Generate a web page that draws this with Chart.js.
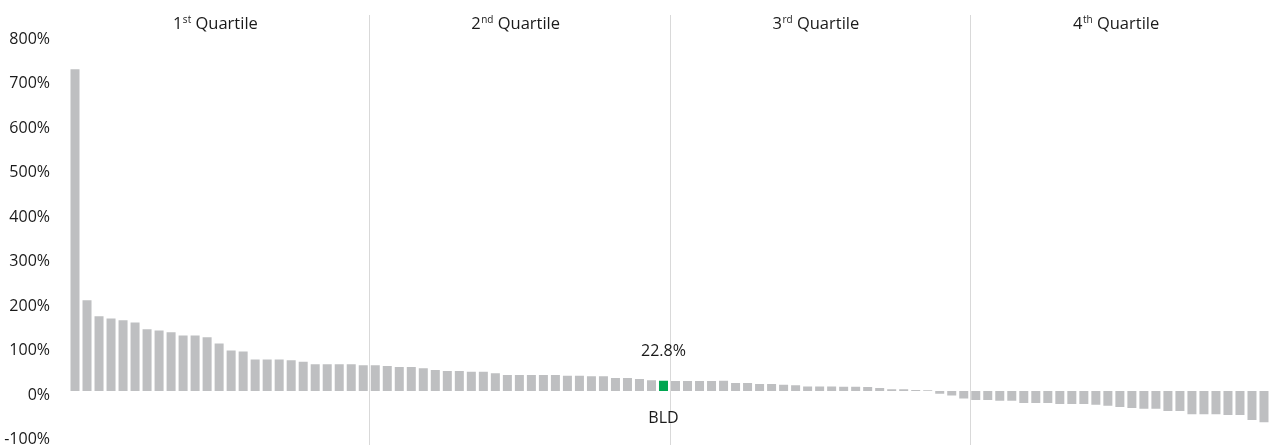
<!DOCTYPE html>
<html>
<head>
<meta charset="utf-8">
<script src="https://cdn.jsdelivr.net/npm/chart.js@4.4.1/dist/chart.umd.min.js"></script>
<style>
  html, body { margin: 0; padding: 0; background: #ffffff; }
  #wrap { width: 1279px; height: 445px; position: relative; }
</style>
</head>
<body>
<div id="wrap"><canvas id="chart"></canvas></div>
<script>
// peer returns, sorted high to low (%)
const returns = [
  723, 204, 168, 163, 159, 154, 139, 136, 132, 125,
  125, 121, 107, 91, 89, 71, 71, 71, 69, 66,
  60, 60, 60, 60, 58, 58, 56, 54, 54, 51,
  47, 45, 45, 43, 43, 40, 36, 36, 36, 36,
  36, 34, 34, 33, 33, 29, 29, 27, 24, 22.8,
  22.5, 22.5, 22.5, 22.3, 23, 18, 18, 16, 15.5, 14,
  13, 10, 10, 10, 9.5, 9.5, 9, 6.5, 4, 4,
  2, 1.5, -6, -10, -17, -20, -20, -22, -22, -27,
  -27, -27, -29, -29, -29, -31, -33, -36, -38, -40,
  -40, -45, -45, -52, -52, -52, -54, -54, -65, -70
];
const highlightName = "BLD";
const highlightIndex = 49;
const categories = returns.map((v, i) => i === highlightIndex ? highlightName : "Peer " + (i + 1));
const quartileNums = ["1", "2", "3", "4"];
const quartileSuffix = ["st", "nd", "rd", "th"];
const quartileText = " Quartile";
const yTicks = { min: -100, max: 800, step: 100 };

const GREY = "#bebfc1";
const GREEN = "#00a651";
const TEXT = "#1a1a1a";
const FONT = "'Open Sans', 'DejaVu Sans', sans-serif";

const overlay = {
  id: "overlay",
  beforeDatasetsDraw(chart) {
    const { ctx, scales: { x } } = chart;
    const n = categories.length;
    const per = n / 4;
    ctx.save();
    ctx.strokeStyle = "#d9d9d9";
    ctx.lineWidth = 1;
    for (let q = 1; q < 4; q++) {
      const px = Math.round((x.getPixelForValue(q * per - 1) + x.getPixelForValue(q * per)) / 2) + 0.5;
      ctx.beginPath();
      ctx.moveTo(px, 15);
      ctx.lineTo(px, chart.height);
      ctx.stroke();
    }
    ctx.restore();
  },
  afterDatasetsDraw(chart) {
    const { ctx, scales: { x, y } } = chart;
    const n = categories.length;
    const per = n / 4;
    ctx.save();
    ctx.fillStyle = TEXT;
    ctx.textBaseline = "middle";
    // quartile headers
    for (let q = 0; q < 4; q++) {
      const cx = (x.getPixelForValue(q * per) + x.getPixelForValue(q * per + per - 1)) / 2 - 4;
      ctx.font = "16.5px " + FONT;
      const wNum = ctx.measureText(quartileNums[q]).width;
      const wText = ctx.measureText(quartileText).width;
      ctx.font = "10px " + FONT;
      const wSup = ctx.measureText(quartileSuffix[q]).width;
      let sx = cx - (wNum + wSup + wText) / 2;
      const yy = 24;
      ctx.textAlign = "left";
      ctx.font = "16.5px " + FONT;
      ctx.fillText(quartileNums[q], sx, yy);
      sx += wNum + 0.5;
      ctx.font = "10px " + FONT;
      ctx.fillText(quartileSuffix[q], sx, yy - 4);
      sx += wSup;
      ctx.font = "16.5px " + FONT;
      ctx.fillText(quartileText, sx, yy);
    }
    // highlighted peer labels
    const hx = x.getPixelForValue(highlightIndex);
    const v = returns[highlightIndex];
    ctx.textAlign = "center";
    ctx.font = "16px " + FONT;
    ctx.fillText(v.toFixed(1) + "%", hx, y.getPixelForValue(v) - 29);
    ctx.fillText(highlightName, hx, y.getPixelForValue(0) + 27);
    ctx.restore();
  }
};

new Chart(document.getElementById("chart"), {
  type: "bar",
  data: {
    labels: categories,
    datasets: [{
      data: returns,
      backgroundColor: returns.map((v, i) => i === highlightIndex ? GREEN : GREY),
      borderWidth: 0,
      categoryPercentage: 1,
      barPercentage: 0.75
    }]
  },
  options: {
    responsive: true,
    maintainAspectRatio: false,
    animation: false,
    layout: { padding: { top: 35, bottom: 9.5, left: 0, right: 9 } },
    plugins: { legend: { display: false }, tooltip: { enabled: false } },
    scales: {
      x: { display: false },
      y: {
        min: yTicks.min,
        max: yTicks.max,
        grid: { display: false },
        border: { display: false },
        afterFit: (s) => { s.width = 69; s.paddingTop = 0; s.paddingBottom = 0; },
        ticks: {
          stepSize: yTicks.step,
          padding: 11,
          labelOffset: 4,
          color: TEXT,
          font: { family: FONT, size: 16 },
          callback: (val) => val + "%"
        }
      }
    }
  },
  plugins: [overlay]
});
</script>
</body>
</html>
